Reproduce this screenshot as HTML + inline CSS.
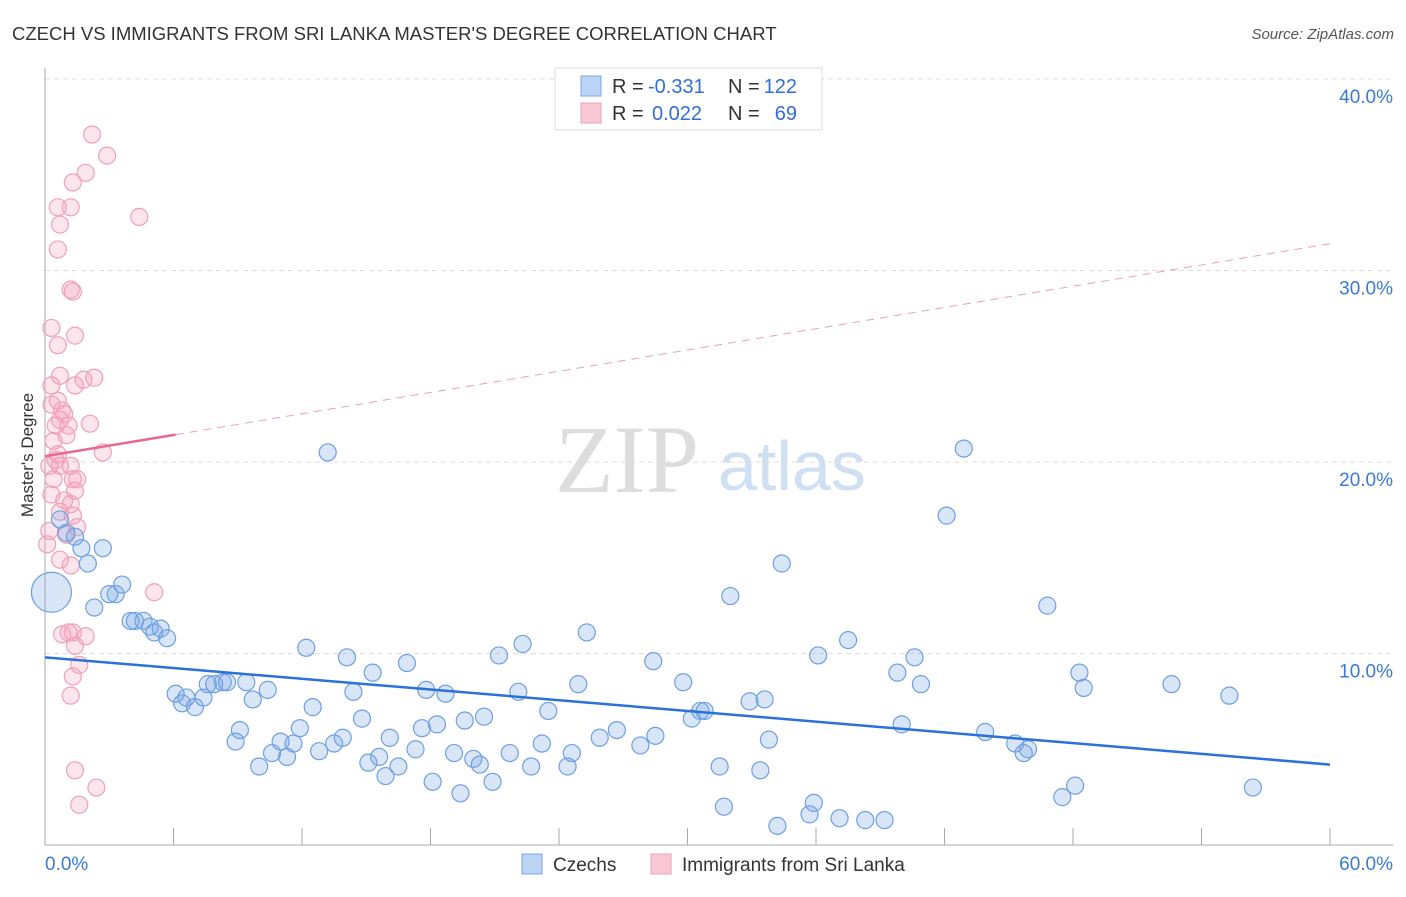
<!DOCTYPE html>
<html><head><meta charset="utf-8"><style>
body{margin:0;background:#fff;font-family:"Liberation Sans",sans-serif;}
</style></head><body>
<svg id="c" width="1406" height="892" xmlns="http://www.w3.org/2000/svg">
<text x="12" y="40" font-size="18.5" fill="#333">CZECH VS IMMIGRANTS FROM SRI LANKA MASTER'S DEGREE CORRELATION CHART</text>
<text x="1394" y="39" font-size="15" fill="#555" font-style="italic" text-anchor="end">Source: ZipAtlas.com</text>
<text x="0" y="0" transform="translate(33,455) rotate(-90)" font-size="17" fill="#333" text-anchor="middle">Master's Degree</text>
<g><text x="555" y="492" font-size="96" font-family="Liberation Serif" fill="#ddd">ZIP</text><text x="718" y="490" font-size="70" fill="#cfe0f4">atlas</text></g>
<g id="grid"></g><g id="marks"></g>
<g>
<rect x="555" y="68" width="267" height="62" fill="#fff" stroke="#ddd"/>
<rect x="581" y="76" width="20" height="20" fill="#bcd4f5" stroke="#7aa6e6"/>
<rect x="581" y="103" width="20" height="20" fill="#f8c8d6" stroke="#f0a0b8"/>
<text x="612" y="93" font-size="20" fill="#333">R =</text>
<text x="648" y="93" font-size="20" fill="#2f6fd6">-0.331</text>
<text x="728" y="93" font-size="20" fill="#333">N =</text>
<text x="797" y="93" font-size="20" fill="#2f6fd6" text-anchor="end">122</text>
<text x="612" y="120" font-size="20" fill="#333">R =</text>
<text x="652" y="120" font-size="20" fill="#2f6fd6">0.022</text>
<text x="728" y="120" font-size="20" fill="#333">N =</text>
<text x="797" y="120" font-size="20" fill="#2f6fd6" text-anchor="end">69</text>
</g>
<g>
<rect x="522" y="854" width="20" height="20" fill="#bcd4f5" stroke="#7aa6e6"/>
<text x="553" y="871" font-size="19" fill="#333">Czechs</text>
<rect x="651" y="854" width="20" height="20" fill="#f8c8d6" stroke="#f0a0b8"/>
<text x="682" y="871" font-size="19" fill="#333">Immigrants from Sri Lanka</text>
</g>
</svg>
<script>
const blueX=[0.3,0.7,1.0,1.4,1.7,2.0,2.7,2.3,3.0,3.3,3.6,4.0,4.2,4.6,4.9,5.1,5.4,5.7,6.1,6.4,6.6,7.0,7.4,7.6,7.9,8.3,8.5,8.9,9.1,9.4,9.7,10.0,10.4,10.6,11.0,11.3,11.6,11.9,12.2,12.5,12.8,13.2,13.5,13.9,14.1,14.4,14.8,15.1,15.3,15.6,15.9,16.1,16.5,16.9,17.3,17.6,17.8,18.1,18.3,18.7,19.1,19.4,19.6,20.0,20.3,20.5,20.9,21.2,21.7,22.1,22.3,22.7,23.2,23.5,24.4,24.6,24.9,25.3,25.9,26.7,27.8,28.4,28.5,29.8,30.2,30.6,30.8,31.5,31.7,32.0,32.9,33.4,33.6,33.8,34.4,34.2,35.7,35.9,36.1,37.1,37.5,38.3,39.2,39.8,40.0,40.6,40.9,42.1,42.9,43.9,45.3,45.7,45.9,46.8,47.5,48.1,48.3,48.5,52.6,55.3,56.4];
const blueY=[13.2,17.0,16.3,16.1,15.5,14.7,15.5,12.4,13.1,13.1,13.6,11.7,11.7,11.7,11.4,11.1,11.3,10.8,7.9,7.4,7.7,7.2,7.7,8.4,8.4,8.5,8.5,5.4,6.0,8.5,7.6,4.1,8.1,4.8,5.4,4.6,5.3,6.1,10.3,7.2,4.9,20.5,5.3,5.6,9.8,8.0,6.6,4.3,9.0,4.6,3.6,5.6,4.1,9.5,5.0,6.1,8.1,3.3,6.3,7.9,4.8,2.7,6.5,4.5,4.2,6.7,3.3,9.9,4.8,8.0,10.5,4.1,5.3,7.0,4.1,4.8,8.4,11.1,5.6,6.0,5.2,9.6,5.7,8.5,6.6,7.0,7.0,4.1,2.0,13.0,7.5,3.9,7.6,5.5,14.7,1.0,1.6,2.2,9.9,1.4,10.7,1.3,1.3,9.0,6.3,9.8,8.4,17.2,20.7,5.9,5.3,4.8,5.0,12.5,2.5,3.1,9.0,8.2,8.4,7.8,3.0];
const pinkX=[0.1,0.2,0.3,0.4,0.2,0.5,0.6,0.7,0.4,0.5,0.7,0.8,0.3,0.6,0.9,1.1,1.0,1.2,1.3,1.4,1.5,0.9,0.7,1.2,1.3,1.5,1.0,0.7,1.2,0.3,0.7,0.6,0.3,1.4,1.2,1.3,1.4,1.8,2.3,2.1,2.7,0.6,0.7,0.6,1.2,1.3,1.9,2.2,2.9,4.4,0.8,1.1,1.3,1.9,1.4,1.6,1.3,1.2,1.4,2.4,1.6,5.1];
const pinkY=[15.7,16.4,18.3,19.1,19.8,20.1,20.4,19.8,21.1,21.9,22.2,22.7,23.0,23.2,22.5,21.9,21.4,19.8,19.1,18.5,19.1,18.0,17.4,17.8,17.2,16.6,16.2,14.9,14.6,24.0,24.5,26.1,27.0,26.6,29.0,28.9,24.0,24.3,24.4,22.0,20.5,31.1,32.4,33.3,33.3,34.6,35.1,37.1,36.0,32.8,11.0,11.1,11.1,10.9,10.4,9.4,8.8,7.8,3.9,3.0,2.1,13.2];
const blueTrend=[9.8,4.2];   // y at x=0 and x=60
const pinkTrend=[20.3,31.4];
const pinkSolidEnd=6.1;
const yTicks=[10,20,30,40];
const yTickLabels=["10.0%","20.0%","30.0%","40.0%"];
const xTicks=[0,6,12,18,24,30,36,42,48,54,60];

const NS="http://www.w3.org/2000/svg";
const X=v=>45+v*1285/60, Y=v=>845-v*19.15;
function mk(tag,a,p){const e=document.createElementNS(NS,tag);for(const k in a)e.setAttribute(k,a[k]);p.appendChild(e);return e;}
const g=document.getElementById('grid'), m=document.getElementById('marks');
yTicks.forEach((t,i)=>{
 const l=mk('line',{x1:45,x2:1393,y1:Y(t),y2:Y(t),stroke:'#ddd','stroke-dasharray':'5,4'},g);
 
 
 const tx=mk('text',{x:1393,y:Y(t)+24,'font-size':19,fill:'#3a7bd5','text-anchor':'end'},g);
 tx.textContent=yTickLabels[i];
 
 
});
const ax=mk('line',{x1:45,x2:45,y1:68,y2:845,stroke:'#aaa'},g);


const bx=mk('line',{x1:45,x2:1393,y1:845,y2:845,stroke:'#aaa'},g);


xTicks.forEach(t=>{
 const l=mk('line',{x1:X(t),x2:X(t),y1:828,y2:845,stroke:'#aaa'},g);
 
 
});
const x0=mk('text',{x:45,y:870,'font-size':19,fill:'#3a7bd5'},g);x0.textContent="0.0%";


const x1=mk('text',{x:1393,y:870,'font-size':19,fill:'#3a7bd5','text-anchor':'end'},g);x1.textContent="60.0%";



pinkX.forEach((v,i)=>{
 const c=mk('circle',{cx:X(v),cy:Y(pinkY[i]),r:8.5,fill:'rgba(244,160,188,0.28)',stroke:'#f0a0b8','stroke-width':1.2},m);
 
 
});
blueX.forEach((v,i)=>{
 const c=mk('circle',{cx:X(v),cy:Y(blueY[i]),r:i===0?20:8.5,fill:'rgba(120,165,230,0.28)',stroke:'#6e9fe3','stroke-width':1.2},m);
 
 
});
const bl=mk('line',{x1:X(0),y1:Y(blueTrend[0]),x2:X(60),y2:Y(blueTrend[1]),stroke:'#2a72d8','stroke-width':2.5},m);


const pe=pinkTrend[0]+(pinkTrend[1]-pinkTrend[0])*pinkSolidEnd/60;
const pl=mk('line',{x1:X(0),y1:Y(pinkTrend[0]),x2:X(pinkSolidEnd),y2:Y(pe),stroke:'#e8688f','stroke-width':2.5},m);


const pd=mk('line',{x1:X(pinkSolidEnd),y1:Y(pe),x2:X(60),y2:Y(pinkTrend[1]),stroke:'#eba0b6','stroke-width':1,'stroke-dasharray':'8,6'},m);


</script>
</body></html>
